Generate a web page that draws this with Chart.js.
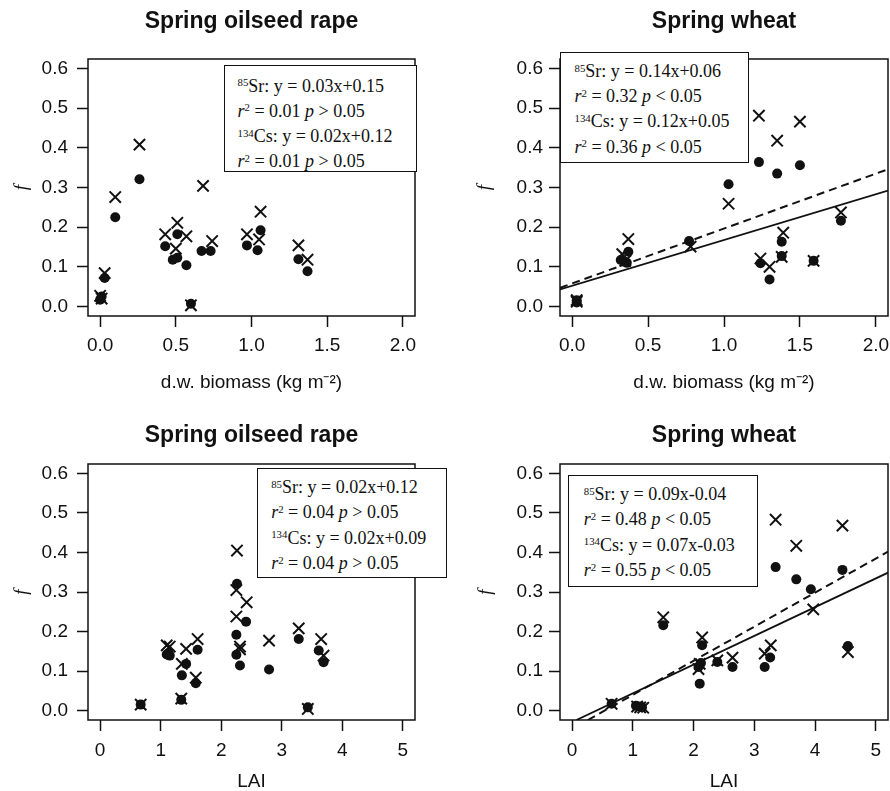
<!DOCTYPE html>
<html>
<head>
<meta charset="utf-8">
<script src="https://cdn.jsdelivr.net/npm/chart.js@4/dist/chart.umd.min.js"></script>
<style>
html,body{margin:0;padding:0;background:#fff;overflow:hidden;}
body{width:890px;height:791px;position:relative;}
canvas{position:absolute;}
.eq{position:absolute;box-sizing:border-box;border:1.5px solid #111;background:#fff;
  font-family:'Liberation Serif','Times New Roman',serif;font-size:18px;line-height:23.3px;
  color:#111;white-space:nowrap;}
.eq .s{position:relative;top:-0.5em;font-size:0.6em;}
.eq i{font-style:italic;}
</style>
</head>
<body>
<script>
// ---------- DATA ----------
// tick labels
const biomassTicks = [0, 0.5, 1.0, 1.5, 2.0];
const laiTicks = [0, 1, 2, 3, 4, 5];
const fTicks = [0, 0.1, 0.2, 0.3, 0.4, 0.5, 0.6];

// Panel 1: Spring oilseed rape vs d.w. biomass (crosses = 85Sr, dots = 134Cs)
const p1SrX = [0.00, 0.01, 0.03, 0.10, 0.26, 0.43, 0.50, 0.51, 0.57, 0.60, 0.68, 0.74, 0.97, 1.05, 1.06, 1.31, 1.37];
const p1SrY = [0.027, 0.020, 0.084, 0.276, 0.408, 0.182, 0.146, 0.211, 0.177, 0.003, 0.304, 0.165, 0.182, 0.169, 0.239, 0.154, 0.118];
const p1CsX = [0.00, 0.01, 0.03, 0.10, 0.26, 0.43, 0.48, 0.51, 0.51, 0.57, 0.60, 0.67, 0.73, 0.97, 1.04, 1.06, 1.31, 1.37];
const p1CsY = [0.017, 0.025, 0.072, 0.225, 0.321, 0.152, 0.118, 0.182, 0.123, 0.104, 0.007, 0.140, 0.140, 0.154, 0.142, 0.192, 0.119, 0.089];
const p1Eq = ['0.03x+0.15', '0.01', '>', '0.02x+0.12', '0.01', '>'];

// Panel 2: Spring wheat vs d.w. biomass
const p2SrX = [0.03, 0.03, 0.33, 0.35, 0.37, 0.78, 1.03, 1.23, 1.24, 1.30, 1.35, 1.38, 1.39, 1.50, 1.59, 1.77];
const p2SrY = [0.012, 0.016, 0.132, 0.115, 0.170, 0.151, 0.259, 0.481, 0.121, 0.100, 0.418, 0.125, 0.186, 0.466, 0.115, 0.237];
const p2CsX = [0.03, 0.03, 0.32, 0.36, 0.37, 0.77, 1.03, 1.23, 1.24, 1.30, 1.35, 1.38, 1.38, 1.50, 1.59, 1.77];
const p2CsY = [0.010, 0.016, 0.117, 0.110, 0.138, 0.165, 0.308, 0.364, 0.109, 0.068, 0.335, 0.127, 0.163, 0.356, 0.115, 0.216];
const p2SrLineX = [-0.08, 2.08];
const p2SrLineY = [0.047, 0.346];
const p2CsLineX = [-0.08, 2.08];
const p2CsLineY = [0.043, 0.292];
const p2Eq = ['0.14x+0.06', '0.32', '<', '0.12x+0.05', '0.36', '<'];

// Panel 3: Spring oilseed rape vs LAI
const p3SrX = [0.67, 1.10, 1.15, 1.34, 1.35, 1.42, 1.58, 1.61, 2.26, 2.25, 2.25, 2.31, 2.31, 2.42, 2.79, 3.28, 3.43, 3.65, 3.69];
const p3SrY = [0.015, 0.165, 0.162, 0.030, 0.118, 0.156, 0.083, 0.181, 0.405, 0.305, 0.238, 0.162, 0.155, 0.274, 0.177, 0.208, 0.004, 0.181, 0.139];
const p3CsX = [0.67, 1.10, 1.15, 1.13, 1.34, 1.35, 1.42, 1.58, 1.61, 2.26, 2.25, 2.25, 2.31, 2.41, 2.79, 3.28, 3.43, 3.61, 3.69];
const p3CsY = [0.015, 0.142, 0.139, 0.145, 0.027, 0.089, 0.118, 0.069, 0.154, 0.321, 0.192, 0.141, 0.114, 0.225, 0.104, 0.181, 0.008, 0.152, 0.122];
const p3Eq = ['0.02x+0.12', '0.04', '>', '0.02x+0.09', '0.04', '>'];

// Panel 4: Spring wheat vs LAI
const p4SrX = [0.65, 1.07, 1.12, 1.17, 1.50, 2.08, 2.10, 2.14, 2.39, 2.64, 3.17, 3.27, 3.35, 3.69, 3.97, 4.45, 4.54];
const p4SrY = [0.017, 0.010, 0.008, 0.007, 0.236, 0.105, 0.118, 0.185, 0.127, 0.134, 0.144, 0.165, 0.483, 0.417, 0.256, 0.468, 0.148];
const p4CsX = [0.65, 1.05, 1.12, 1.15, 1.50, 2.08, 2.12, 2.10, 2.14, 2.39, 2.64, 3.17, 3.26, 3.35, 3.69, 3.93, 4.45, 4.54];
const p4CsY = [0.017, 0.012, 0.010, 0.008, 0.216, 0.110, 0.120, 0.068, 0.165, 0.123, 0.110, 0.110, 0.134, 0.363, 0.332, 0.307, 0.356, 0.163];
const p4SrLineX = [0.26, 5.2];
const p4SrLineY = [-0.024, 0.402];
const p4CsLineX = [0.07, 5.2];
const p4CsLineY = [-0.024, 0.349];
const p4Eq = ['0.09x-0.04', '0.48', '<', '0.07x-0.03', '0.55', '<'];

// ---------- DRAWING ----------
Chart.defaults.font.family = "'Liberation Sans', Arial, Helvetica, sans-serif";
Chart.defaults.color = '#111';

const INK = '#111';
const framePlugin = {
  id: 'frame',
  afterDatasetsDraw(chart) {
    const {ctx, chartArea: a} = chart;
    ctx.save();
    ctx.strokeStyle = INK;
    ctx.lineWidth = 1.5;
    ctx.strokeRect(a.left, a.top, a.right - a.left, a.bottom - a.top);
    ctx.restore();
  }
};

function pts(xs, ys) { return xs.map((x, i) => ({x: x, y: ys[i]})); }

function esc(s) { return s.replace(/</g, '&lt;').replace(/>/g, '&gt;'); }

function makePanel(o) {
  const cv = document.createElement('canvas');
  cv.width = o.w; cv.height = o.h;
  cv.style.left = o.left + 'px'; cv.style.top = o.top + 'px';
  cv.style.width = o.w + 'px'; cv.style.height = o.h + 'px';
  document.body.appendChild(cv);

  const ds = [
    {label: '85Sr', data: pts(o.srX, o.srY), showLine: false, pointStyle: 'crossRot',
     pointRadius: 8, pointBorderWidth: 2, borderColor: INK, backgroundColor: INK},
    {label: '134Cs', data: pts(o.csX, o.csY), showLine: false, pointStyle: 'circle',
     pointRadius: 5, pointBorderWidth: 0, borderColor: INK, backgroundColor: INK}
  ];
  if (o.srLineX) {
    ds.push({label: '85Sr fit', data: pts(o.srLineX, o.srLineY), showLine: true, pointRadius: 0,
      borderColor: INK, borderWidth: 2, borderDash: [8, 5], fill: false});
    ds.push({label: '134Cs fit', data: pts(o.csLineX, o.csLineY), showLine: true, pointRadius: 0,
      borderColor: INK, borderWidth: 1.8, fill: false});
  }
  const titleLH = 23 * 1.2;
  new Chart(cv, {
    type: 'scatter',
    data: {datasets: ds},
    plugins: [framePlugin],
    options: {
      responsive: false, animation: false, devicePixelRatio: 1,
      layout: {padding: {left: 0, top: 0, right: o.w - o.area.r, bottom: 0}},
      plugins: {
        legend: {display: false},
        tooltip: {enabled: false},
        title: {display: true, text: o.title, fullSize: false, color: INK,
          font: {size: 23, weight: 'bold'},
          padding: {top: o.titleTop, bottom: o.area.t - o.titleTop - titleLH}}
      },
      scales: {
        x: {
          type: 'linear', min: o.xMin, max: o.xMax,
          afterBuildTicks: s => { s.ticks = o.xTicks.map(v => ({value: v})); },
          afterFit: s => { s.height = o.h - o.area.b; },
          ticks: {callback: o.xFmt, padding: o.xTickPad, color: INK, font: {size: 19},
                  maxRotation: 0, autoSkip: false},
          grid: {display: true, drawOnChartArea: false, drawTicks: true, tickLength: 11,
                 tickWidth: 1.5, tickColor: INK, color: INK},
          border: {display: false},
          title: {display: true, text: o.xTitle, color: INK, font: {size: 19},
                  padding: {top: 0, bottom: o.xTitlePad}}
        },
        y: {
          type: 'linear', min: -0.024, max: 0.624,
          afterBuildTicks: s => { s.ticks = fTicks.map(v => ({value: v})); },
          afterFit: s => { s.width = o.area.l; },
          ticks: {callback: v => v.toFixed(1), padding: o.yTickPad, color: INK, font: {size: 19},
                  autoSkip: false},
          grid: {display: true, drawOnChartArea: false, drawTicks: true, tickLength: 11,
                 tickWidth: 1.5, tickColor: INK, color: INK},
          border: {display: false},
          title: {display: true, text: 'f', color: INK,
                  font: {size: 19, style: 'italic', family: "'Liberation Serif', 'Times New Roman', serif"},
                  padding: {top: o.yTitlePad, bottom: 0}}
        }
      }
    }
  });

  const box = document.createElement('div');
  box.className = 'eq';
  const b = o.eqBox;
  box.style.left = b.l + 'px'; box.style.top = b.t + 'px';
  box.style.width = b.w + 'px'; box.style.height = b.h + 'px';
  box.style.paddingLeft = b.pl + 'px'; box.style.paddingTop = b.pt + 'px';
  const e = o.eq;
  box.innerHTML =
    '<div><span class="s">85</span>Sr: y = ' + e[0] + '</div>' +
    '<div><i>r</i><span class="s">2</span> = ' + e[1] + ' <i>p</i> ' + esc(e[2]) + ' 0.05</div>' +
    '<div><span class="s">134</span>Cs: y = ' + e[3] + '</div>' +
    '<div><i>r</i><span class="s">2</span> = ' + e[4] + ' <i>p</i> ' + esc(e[5]) + ' 0.05</div>';
  o.boxes.push(box);
}

const eqBoxes = [];
const fmt1 = v => v.toFixed(1);
const fmt0 = v => String(v);

makePanel({left: 0, top: 0, w: 445, h: 395, area: {l: 88, r: 415, t: 59, b: 316},
  xMin: -0.08, xMax: 2.08, xTicks: biomassTicks, xFmt: fmt1,
  title: 'Spring oilseed rape', titleTop: 8, xTitle: 'd.w. biomass (kg m\u207B\u00B2)',
  xTitlePad: 0.6, xTickPad: 7, yTickPad: 9, yTitlePad: 10.3,
  srX: p1SrX, srY: p1SrY, csX: p1CsX, csY: p1CsY, eq: p1Eq,
  eqBox: {l: 224, t: 65, w: 193, h: 107, pl: 12.5, pt: 8.5}, boxes: eqBoxes});

makePanel({left: 445, top: 0, w: 470, h: 395, area: {l: 115, r: 443, t: 59, b: 316},
  xMin: -0.08, xMax: 2.08, xTicks: biomassTicks, xFmt: fmt1,
  title: 'Spring wheat', titleTop: 8, xTitle: 'd.w. biomass (kg m\u207B\u00B2)',
  xTitlePad: 0.6, xTickPad: 7, yTickPad: 6, yTitlePad: 28.6,
  srX: p2SrX, srY: p2SrY, csX: p2CsX, csY: p2CsY, eq: p2Eq,
  srLineX: p2SrLineX, srLineY: p2SrLineY, csLineX: p2CsLineX, csLineY: p2CsLineY,
  eqBox: {l: 560, t: 52, w: 189, h: 111, pl: 13.5, pt: 6.9}, boxes: eqBoxes});

makePanel({left: 0, top: 395, w: 445, h: 400, area: {l: 88, r: 415, t: 69, b: 325},
  xMin: -0.2, xMax: 5.2, xTicks: laiTicks, xFmt: fmt0,
  title: 'Spring oilseed rape', titleTop: 27, xTitle: 'LAI',
  xTitlePad: 1.9, xTickPad: 8, yTickPad: 9, yTitlePad: 10.3,
  srX: p3SrX, srY: p3SrY, csX: p3CsX, csY: p3CsY, eq: p3Eq,
  eqBox: {l: 257, t: 468, w: 190, h: 110, pl: 13.2, pt: 7}, boxes: eqBoxes});

makePanel({left: 445, top: 395, w: 470, h: 400, area: {l: 115, r: 443, t: 69, b: 325},
  xMin: -0.2, xMax: 5.2, xTicks: laiTicks, xFmt: fmt0,
  title: 'Spring wheat', titleTop: 27, xTitle: 'LAI',
  xTitlePad: 1.9, xTickPad: 8, yTickPad: 6, yTitlePad: 29.5,
  srX: p4SrX, srY: p4SrY, csX: p4CsX, csY: p4CsY, eq: p4Eq,
  srLineX: p4SrLineX, srLineY: p4SrLineY, csLineX: p4CsLineX, csLineY: p4CsLineY,
  eqBox: {l: 568, t: 475, w: 190, h: 112, pl: 14.8, pt: 7}, boxes: eqBoxes});

eqBoxes.forEach(b => document.body.appendChild(b));
</script>
</body>
</html>
